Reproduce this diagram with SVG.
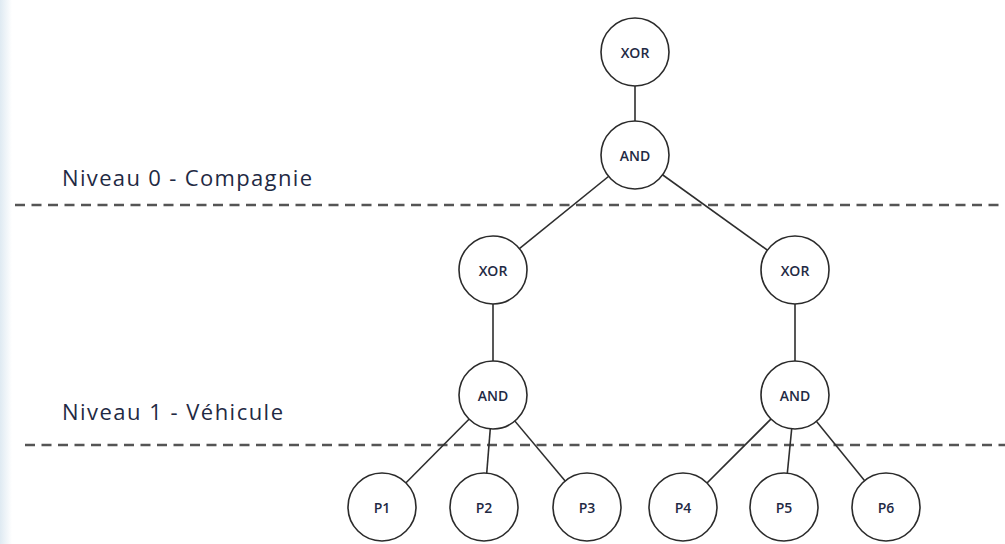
<svg xmlns="http://www.w3.org/2000/svg" width="1005" height="544" viewBox="0 0 1005 544">
  <style>
    .node circle { fill: #ffffff; stroke: #2b2b2b; stroke-width: 1.6; }
    .node text { font-family: "Open Sans", "Liberation Sans", sans-serif; font-size: 14px; font-weight: 600; fill: #1f2a44; text-anchor: middle; dominant-baseline: central; }
    .edge { stroke: #2e2e2e; stroke-width: 1.6; }
    .level { stroke: #555555; stroke-width: 2.4; stroke-dasharray: 10 6.5; }
    .label { font-family: "Open Sans", "Liberation Sans", sans-serif; font-size: 22px; fill: #1f2a44; }
  </style>
  <defs>
    <linearGradient id="edgeShade" x1="0" y1="0" x2="1" y2="0">
      <stop offset="0" stop-color="#dfeaf2"/>
      <stop offset="1" stop-color="#ffffff"/>
    </linearGradient>
  </defs>
  <rect width="1005" height="544" fill="#ffffff"/>
  <rect x="0" y="0" width="12" height="544" fill="url(#edgeShade)"/>

  <!-- level separators and captions -->
  <g id="levels">
    <line class="level" x1="15" y1="205" x2="1005" y2="205"/>
    <line class="level" x1="25" y1="445" x2="1005" y2="445"/>
    <text class="label" x="62" y="186" textLength="250">Niveau 0 - Compagnie</text>
    <text class="label" x="62" y="420" textLength="221">Niveau 1 - Véhicule</text>
  </g>

  <!-- connectors (drawn beneath the white-filled nodes) -->
  <g id="connectors">
    <line class="edge" x1="635" y1="52" x2="635" y2="155"/>
    <line class="edge" x1="635" y1="155" x2="493" y2="270"/>
    <line class="edge" x1="635" y1="155" x2="795" y2="270"/>
    <line class="edge" x1="493" y1="270" x2="493" y2="395"/>
    <line class="edge" x1="795" y1="270" x2="795" y2="395"/>
    <line class="edge" x1="493" y1="395" x2="382" y2="507"/>
    <line class="edge" x1="493" y1="395" x2="484" y2="507"/>
    <line class="edge" x1="493" y1="395" x2="587" y2="507"/>
    <line class="edge" x1="795" y1="395" x2="683" y2="507"/>
    <line class="edge" x1="795" y1="395" x2="784" y2="507"/>
    <line class="edge" x1="795" y1="395" x2="886" y2="507"/>
  </g>

  <g id="root-xor" class="node"><circle cx="635" cy="52" r="34"/><text x="635" y="52">XOR</text></g>
  <g id="root-and" class="node"><circle cx="635" cy="155" r="34"/><text x="635" y="155">AND</text></g>
  <g id="left-xor" class="node"><circle cx="493" cy="270" r="34"/><text x="493" y="270">XOR</text></g>
  <g id="right-xor" class="node"><circle cx="795" cy="270" r="34"/><text x="795" y="270">XOR</text></g>
  <g id="left-and" class="node"><circle cx="493" cy="395" r="34"/><text x="493" y="395">AND</text></g>
  <g id="right-and" class="node"><circle cx="795" cy="395" r="34"/><text x="795" y="395">AND</text></g>
  <g id="p1" class="node"><circle cx="382" cy="507" r="34"/><text x="382" y="507">P1</text></g>
  <g id="p2" class="node"><circle cx="484" cy="507" r="34"/><text x="484" y="507">P2</text></g>
  <g id="p3" class="node"><circle cx="587" cy="507" r="34"/><text x="587" y="507">P3</text></g>
  <g id="p4" class="node"><circle cx="683" cy="507" r="34"/><text x="683" y="507">P4</text></g>
  <g id="p5" class="node"><circle cx="784" cy="507" r="34"/><text x="784" y="507">P5</text></g>
  <g id="p6" class="node"><circle cx="886" cy="507" r="34"/><text x="886" y="507">P6</text></g>
</svg>
